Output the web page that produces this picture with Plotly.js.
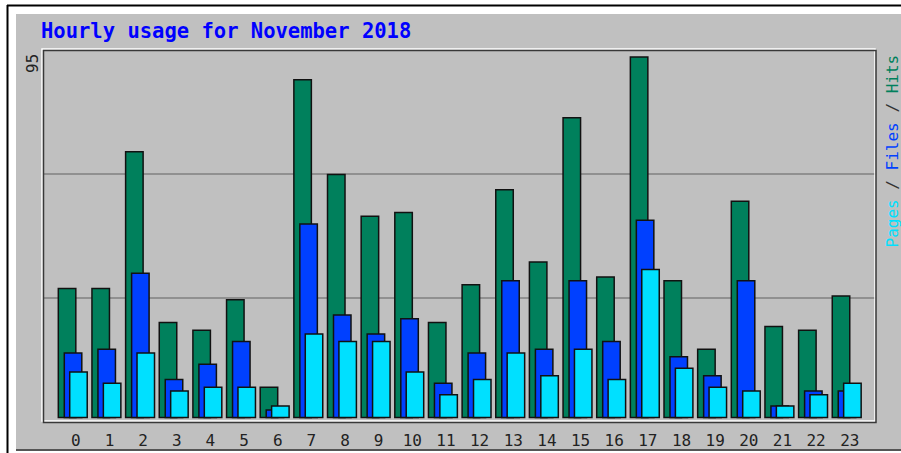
<!DOCTYPE html>
<html>
<head>
<meta charset="utf-8">
<script src="https://cdn.plot.ly/plotly-3.0.1.min.js"></script>
<style>html,body{margin:0;padding:0;background:#fff;}#chart{width:901px;height:453px;}</style>
</head>
<body>
<div id="chart"></div>
<script>
const hours = [0,1,2,3,4,5,6,7,8,9,10,11,12,13,14,15,16,17,18,19,20,21,22,23];
const hourLabels = hours.map(String);
const hits  = [34,34,70,25,23,31,8,89,64,53,54,25,35,60,41,79,37,95,36,18,57,24,23,32];
const files = [17,18,38,10,14,20,2,51,27,22,26,9,17,36,18,36,20,52,16,11,36,3,7,7];
const pages = [12,9,17,7,8,8,3,22,20,20,12,6,10,17,11,18,10,39,13,8,7,3,6,9];
const titleText = "Hourly usage for November 2018";
const maxLabel = String(Math.max(...hits));

const W = 901, H = 453;
const ml = 43, mr = 25, mt = 50, mb = 31;
const pw = W - ml - mr, ph = H - mt - mb;
const px = v => (v - ml) / pw;      // pixel x -> paper
const py = v => (H - mb - v) / ph;  // pixel y -> paper

const barW = 0.52;
const line = {color: '#111', width: 1.5};
const mono = '"DejaVu Sans Mono", "Liberation Mono", monospace';

const traces = [
  {type: 'bar', name: 'Hits', x: hours, y: hits, width: barW, offset: -0.52,
   marker: {color: '#00805c', line: line}, hoverinfo: 'y'},
  {type: 'bar', name: 'Files', x: hours, y: files, width: barW, offset: -0.342,
   marker: {color: '#0040ff', line: line}, hoverinfo: 'y'},
  {type: 'bar', name: 'Pages', x: hours, y: pages, width: barW, offset: -0.181,
   marker: {color: '#00e0ff', line: line}, hoverinfo: 'y'}
];

const shapes = [
  {type: 'rect', xref: 'paper', yref: 'paper', layer: 'below',
   x0: px(16), x1: px(905), y0: py(449), y1: py(14),
   fillcolor: '#c0c0c0', line: {width: 0}},
  {type: 'line', xref: 'paper', yref: 'paper', layer: 'below',
   x0: px(7.5), x1: px(7.5), y0: py(460), y1: py(5), line: {color: '#000', width: 2}},
  {type: 'line', xref: 'paper', yref: 'paper', layer: 'below',
   x0: px(7), x1: px(905), y0: py(5.5), y1: py(5.5), line: {color: '#000', width: 2}},
  {type: 'line', xref: 'paper', yref: 'paper', layer: 'below',
   x0: px(16), x1: px(905), y0: py(450), y1: py(450), line: {color: '#555', width: 2}},
  {type: 'line', xref: 'paper', yref: 'paper', layer: 'below',
   x0: 0, x1: 1, y0: 1/3, y1: 1/3, line: {color: '#808080', width: 1.5}},
  {type: 'line', xref: 'paper', yref: 'paper', layer: 'below',
   x0: 0, x1: 1, y0: 2/3, y1: 2/3, line: {color: '#808080', width: 1.5}},
  {type: 'rect', xref: 'paper', yref: 'paper', layer: 'below',
   x0: px(42), x1: px(875), y0: py(421), y1: py(49), line: {color: '#ffffff', width: 1.5}},
  {type: 'rect', xref: 'paper', yref: 'paper', layer: 'below',
   x0: px(43.5), x1: px(876), y0: py(422.5), y1: py(50.5), line: {color: '#383838', width: 1.5}}
];

const legendText = '<span style="color:#00e0ff">Pages</span>' +
  '<span style="color:#333"> / </span>' +
  '<span style="color:#0040ff">Files</span>' +
  '<span style="color:#333"> / </span>' +
  '<span style="color:#00805c">Hits</span>';

const annotations = [
  {xref: 'paper', yref: 'paper', x: px(33), y: py(64), text: maxLabel, textangle: -90,
   showarrow: false, xanchor: 'center', yanchor: 'middle',
   font: {family: mono, size: 16, color: '#222'}},
  {xref: 'paper', yref: 'paper', x: px(892), y: py(151.5), text: legendText, textangle: -90,
   showarrow: false, xanchor: 'center', yanchor: 'middle',
   font: {family: mono, size: 16, color: '#333'}}
];

const layout = {
  width: W, height: H,
  margin: {l: ml, r: mr, t: mt, b: mb, pad: 0},
  paper_bgcolor: '#ffffff',
  plot_bgcolor: 'rgba(0,0,0,0)',
  showlegend: false,
  barmode: 'overlay',
  title: {text: titleText, x: 41/W, xref: 'container', xanchor: 'left',
          y: 1 - 31/H, yref: 'container', yanchor: 'middle',
          font: {family: mono, size: 20.5, color: '#0000ff', weight: 'bold'}},
  xaxis: {range: [-0.975, 23.78], tickmode: 'array', tickvals: hours, ticktext: hourLabels,
          showgrid: false, zeroline: false, showline: false, ticks: '',
          ticklabelstandoff: 7,
          tickfont: {family: mono, size: 16, color: '#222'}, fixedrange: true},
  yaxis: {range: [-1.19, 96.84], showgrid: false, zeroline: false, showline: false,
          showticklabels: false, ticks: '', fixedrange: true},
  shapes: shapes,
  annotations: annotations
};

Plotly.newPlot('chart', traces, layout, {displayModeBar: false, staticPlot: true});
</script>
</body>
</html>
